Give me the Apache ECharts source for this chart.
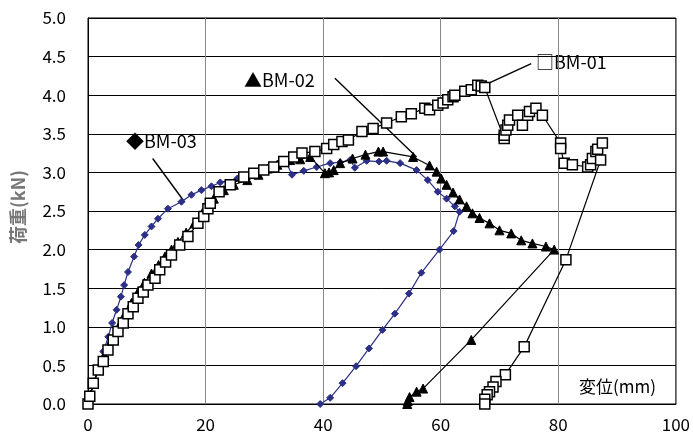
<!DOCTYPE html>
<html>
<head>
<meta charset="utf-8">
<script src="https://cdn.jsdelivr.net/npm/echarts@6/dist/echarts.min.js"></script>
<style>
  html, body { margin: 0; padding: 0; background: #fff; }
  #chart { width: 693px; height: 436px; }
</style>
</head>
<body>
<div id="chart"></div>
<script>
// 荷重-変位曲線 (x: 変位 mm, y: 荷重 kN)
const xTicks = [0, 20, 40, 60, 80, 100];
const yTicks = [0, 0.5, 1, 1.5, 2, 2.5, 3, 3.5, 4, 4.5, 5];

const bm01 = [
  [0, 0], [0.3, 0.1], [0.9, 0.27], [1.75, 0.44], [2.6, 0.55], [3.4, 0.7], [4.3, 0.83],
  [5.1, 0.94], [6.0, 1.05], [6.8, 1.17], [7.7, 1.26], [8.5, 1.37], [9.4, 1.45],
  [10.2, 1.54], [11.4, 1.63], [12.2, 1.74], [13.2, 1.84], [14.2, 1.93], [15.6, 2.06],
  [17, 2.17], [18.7, 2.34], [19.7, 2.43], [20.4, 2.53], [20.8, 2.6], [22.3, 2.75],
  [24.2, 2.84], [26.5, 2.94], [28.2, 2.99], [29.9, 3.03], [31.6, 3.07], [33.3, 3.14],
  [35, 3.2], [36.4, 3.25], [38.6, 3.27], [40.6, 3.31], [41.8, 3.36], [43.2, 3.4],
  [44.3, 3.42], [46.6, 3.53], [48.5, 3.57], [50.8, 3.64], [53.3, 3.72], [55.0, 3.76],
  [57.3, 3.83], [58.1, 3.81], [59.5, 3.87], [60.4, 3.9], [61.2, 3.94], [62.1, 3.98],
  [62.4, 4.0], [64.1, 4.05], [65.2, 4.07], [66.3, 4.13], [66.9, 4.12], [67.5, 4.1],
  [70.8, 3.44], [70.8, 3.48], [71.1, 3.55], [71.4, 3.61], [71.7, 3.68], [73.1, 3.74],
  [73.9, 3.61], [74.8, 3.74], [75.1, 3.79], [76.2, 3.83], [77.3, 3.74], [80.4, 3.38],
  [80.4, 3.31], [81, 3.12], [82.4, 3.1], [85, 3.07], [85.5, 3.1], [85.8, 3.18],
  [86.4, 3.27], [86.7, 3.3], [87.5, 3.38], [87.2, 3.16], [81.3, 1.87], [74.2, 0.74],
  [71.0, 0.38], [69.4, 0.29], [68.9, 0.22], [68.3, 0.16], [67.9, 0.12], [67.5, 0.06],
  [67.5, 0]
];

const bm02 = [
  [0, 0], [0.4, 0.12], [1.0, 0.28], [1.75, 0.44], [2.8, 0.63], [4.0, 0.83], [5.2, 1.0],
  [6.3, 1.17], [7.4, 1.31], [8.5, 1.45], [9.6, 1.57], [10.8, 1.69], [12, 1.8],
  [13.1, 1.91], [14.2, 2.0], [15.3, 2.1], [16.7, 2.22], [18.1, 2.34], [19.5, 2.48],
  [20.3, 2.58], [21.4, 2.66], [23.1, 2.77], [24.8, 2.84], [27.1, 2.9], [29, 2.97],
  [30.6, 3.05], [32.2, 3.1], [34.4, 3.16], [36.1, 3.17], [37.8, 3.2], [40.3, 2.99],
  [41.0, 3.0], [41.8, 3.03], [42.9, 3.12], [45, 3.18], [47.2, 3.23], [49.4, 3.27],
  [50.2, 3.27], [55.3, 3.2], [58.1, 3.09], [59.3, 3.01], [60.1, 2.92], [61, 2.84],
  [62.1, 2.74], [63.2, 2.65], [64.4, 2.56], [65.4, 2.47], [66.6, 2.41], [68.3, 2.34],
  [70, 2.25], [72, 2.21], [73.7, 2.12], [75.6, 2.08], [77.9, 2.04], [79.3, 2.0],
  [65.2, 0.83], [57, 0.2], [55.9, 0.16], [54.7, 0.09], [54.4, 0.04], [54.3, 0]
];

const bm03 = [
  [0, 0], [0.3, 0.1], [1.07, 0.27], [1.86, 0.48], [2.6, 0.68], [3.45, 0.87], [4.1, 1.05],
  [4.86, 1.22], [5.6, 1.39], [6.15, 1.54], [6.8, 1.71], [7.85, 1.91], [8.6, 2.06],
  [9.66, 2.19], [10.8, 2.3], [11.9, 2.4], [13.6, 2.53], [15.9, 2.62], [17.6, 2.71],
  [19.3, 2.77], [21.0, 2.82], [22.5, 2.87], [25.4, 2.92], [28.2, 2.99], [30.5, 3.03],
  [32.2, 3.07], [33.8, 3.12], [34.7, 2.97], [36.7, 3.02], [38.9, 3.07], [41.2, 3.12],
  [42.9, 3.13], [44.6, 3.16], [45.4, 3.06], [47.4, 3.15], [49.5, 3.14], [50.8, 3.15],
  [53.1, 3.12], [55.9, 3.03], [57.8, 2.9], [59.5, 2.75], [61, 2.66], [62.4, 2.56],
  [63.2, 2.49], [62.2, 2.24], [59.8, 2.0], [56.7, 1.7], [54.6, 1.43], [52.2, 1.17],
  [50.1, 0.96], [47.8, 0.72], [45.6, 0.49], [43.3, 0.27], [41.2, 0.08], [39.5, 0]
];

// 引出線 (label -> curve)
const leader01 = [[75.4, 4.41], [68.0, 4.15]];
const leader02 = [[42.0, 4.22], [55.9, 3.2]];
const leader03 = [[11.0, 3.18], [16.4, 2.62]];

const font = '"Noto Sans CJK JP", "DejaVu Sans", sans-serif';
const navy = '#2b2f86';

function leader(data) {
  return {
    type: 'line', data: data, symbol: 'none', silent: true, z: 1,
    lineStyle: { color: '#000', width: 1.4 }
  };
}

function labelBox(x, y, w, h, text) {
  return {
    type: 'group', z: 100,
    children: [
      { type: 'rect', shape: { x: x, y: y, width: w, height: h }, style: { fill: '#fff' } },
      {
        type: 'text', x: x + 6, y: y + h / 2,
        style: { text: text, font: '18px ' + font, fill: '#000', verticalAlign: 'middle' }
      }
    ]
  };
}

let myChart = echarts.init(document.getElementById('chart'));
myChart.setOption({
  animation: false,
  grid: { left: 88, right: 13, top: 18, bottom: 32, show: true, borderColor: '#000', borderWidth: 1 },
  xAxis: {
    type: 'value', min: 0, max: 100, interval: 20,
    axisLine: { show: true, onZero: false, lineStyle: { color: '#000' } },
    axisTick: { show: false },
    splitLine: { show: true, lineStyle: { color: '#888', width: 1 } },
    axisLabel: { color: '#000', fontFamily: font, fontSize: 17, margin: 12 }
  },
  yAxis: {
    type: 'value', min: 0, max: 5, interval: 0.5,
    axisLine: { show: true, onZero: false, lineStyle: { color: '#000' } },
    axisTick: { show: false },
    splitLine: { show: true, lineStyle: { color: '#000', width: 1 } },
    axisLabel: { color: '#000', fontFamily: font, fontSize: 17, margin: 22, formatter: v => v.toFixed(1) }
  },
  series: [
    leader(leader01), leader(leader02), leader(leader03),
    {
      name: 'BM-03', type: 'line', data: bm03, z: 3,
      symbol: 'diamond', symbolSize: 7,
      lineStyle: { color: navy, width: 1.2 },
      itemStyle: { color: navy, borderColor: navy }
    },
    {
      name: 'BM-02', type: 'line', data: bm02, z: 4,
      symbol: 'triangle', symbolSize: 9,
      lineStyle: { color: '#000', width: 1.2 },
      itemStyle: { color: '#000', borderColor: '#000' }
    },
    {
      name: 'BM-01', type: 'line', data: bm01, z: 5,
      symbol: 'rect', symbolSize: 10,
      lineStyle: { color: '#000', width: 1.2 },
      itemStyle: { color: '#fff', borderColor: '#000', borderWidth: 1.5 }
    }
  ],
  graphic: [
    labelBox(530, 45, 95, 34, '□BM-01'),
    labelBox(238, 63, 97, 35, '▲BM-02'),
    labelBox(120, 124, 95, 35, '◆BM-03'),
    {
      type: 'text', x: 579, y: 387, z: 100,
      style: { text: '変位(mm)', font: '17px ' + font, fill: '#000', verticalAlign: 'middle' }
    },
    {
      type: 'text', x: 18, y: 207, rotation: Math.PI / 2, z: 100,
      style: { text: '荷重(kN)', font: 'bold 18px ' + font, fill: '#777', align: 'center', verticalAlign: 'middle' }
    }
  ]
});
</script>
</body>
</html>
